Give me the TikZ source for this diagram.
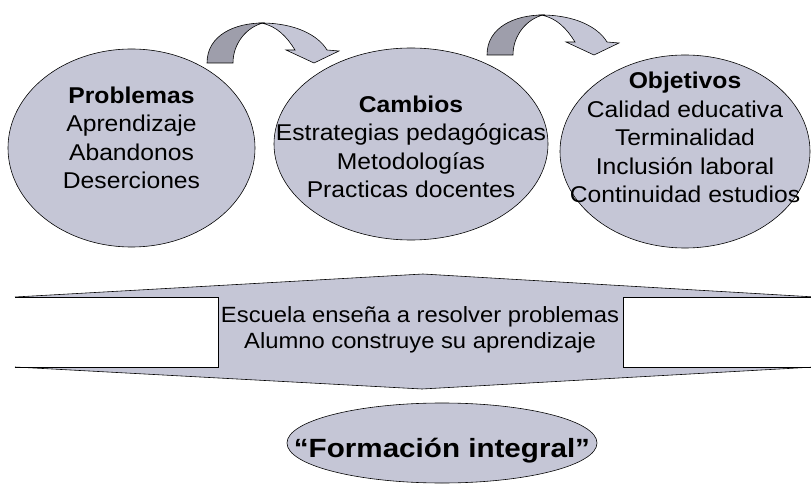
\documentclass[tikz,border=0pt]{standalone}
\usepackage{fontspec}
\setmainfont{Liberation Sans}
\usepackage{tikz}
\usetikzlibrary{positioning,shapes.geometric}

\definecolor{ovalgray}{RGB}{197,198,214}
\definecolor{bandgray}{RGB}{158,158,171}

\begin{document}
\begin{tikzpicture}[
        x=0.03cm, y=-0.03cm,
        oval/.style={ellipse, draw, fill=ovalgray, line width=0.5pt, inner sep=0pt},
        ovaltext/.style={align=center, inner sep=0pt, xscale=1.08, font=\fontsize{19.5}{24.2}\selectfont},
        bendarrow/.pic={
            \filldraw[fill=bandgray, line width=0.5pt] (0,0) .. controls (0,-28) and (28,-40) .. (56,-40)
                .. controls (40,-36) and (26,-20) .. (26,0) -- cycle;
            \filldraw[fill=ovalgray, line width=0.5pt] (54,-40) .. controls (88,-40) and (111,-28) .. (120,-13)
                -- (132,-12) -- (107,0) -- (79,-13) -- (88,-13)
                .. controls (80,-26) and (70,-37) .. (54,-40) -- cycle;
        }
    ]

    \useasboundingbox (0,0) rectangle (811,484);

    % Top row: problems, changes, goals
    \node[oval, minimum width=7.41cm, minimum height=5.94cm] (problemas) at (131.5,148) {};
    \node[oval, minimum width=8.22cm, minimum height=5.76cm] (cambios) at (411,144) {};
    \node[oval, minimum width=7.5cm, minimum height=5.79cm] (objetivos) at (685,151.5) {};

    \node[ovaltext] (problemastxt) at ([yshift=0.3cm]problemas.center)
        {\textbf{Problemas}\\Aprendizaje\\Abandonos\\Deserciones};
    \node[ovaltext] (cambiostxt) at ([yshift=-0.08cm]cambios.center)
        {\textbf{Cambios}\\Estrategias pedagógicas\\Metodologías\\Practicas docentes};
    \node[ovaltext] (objetivostxt) at ([yshift=0.42cm]objetivos.center)
        {\textbf{Objetivos}\\Calidad educativa\\Terminalidad\\Inclusión laboral\\Continuidad estudios};

    % Curved arrows between the ellipses
    \pic at (207,63) {bendarrow};
    \pic at (487,55) {bendarrow};

    % Wide banner
    \fill[ovalgray] (15,297) -- (423,274) -- (815,297) -- cycle;
    \fill[ovalgray] (15,367) -- (422,389) -- (815,367) -- cycle;
    \fill[ovalgray] (218,297) rectangle (623,367);
    \draw[line width=0.5pt] (15,297) -- (423,274) -- (815,297);
    \draw[line width=0.5pt] (15,367) -- (422,389) -- (815,367);
    \draw[line width=0.5pt] (15,297) -- (218,297) -- (218,367) -- (15,367);
    \draw[line width=0.5pt] (815,297) -- (623,297) -- (623,367) -- (815,367);

    \node[ovaltext, font=\fontsize{18.8}{22}\selectfont] (lema) at (420,330)
        {Escuela enseña a resolver problemas\\Alumno construye su aprendizaje};

    % Result
    \node[oval, minimum width=9.3cm, minimum height=2.4cm] (formacion) at (442,443) {};
    \node[ovaltext, xscale=1.04, font=\bfseries\fontsize{22.5}{26}\selectfont] (formaciontxt)
        at ([yshift=-0.22cm]formacion.center) {“Formación integral”};

\end{tikzpicture}
\end{document}
